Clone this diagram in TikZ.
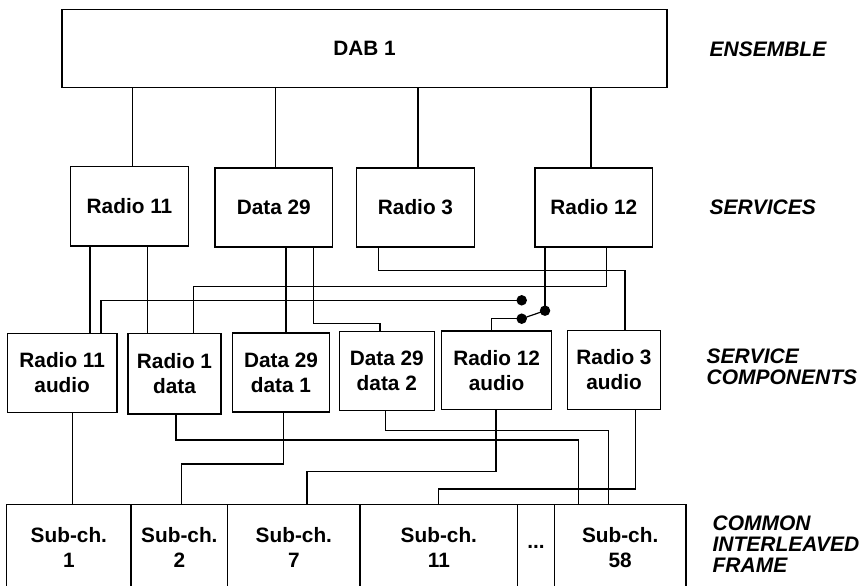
\documentclass[tikz,border=0pt]{standalone}
\usepackage{fontspec}
\setmainfont{Liberation Sans}
\begin{document}
\begin{tikzpicture}[x=1pt,y=-1pt, line width=1.2pt,
  box/.style={draw, rectangle, inner sep=0pt, outer sep=0pt, align=center,
    font=\fontsize{20.8}{25}\selectfont\bfseries},
  lbl/.style={anchor=west, inner sep=0pt, align=left,
    font=\fontsize{21}{21.3}\selectfont\bfseries\itshape},
  dotnode/.style={circle, fill, inner sep=0pt, minimum size=10.5pt}]
\useasboundingbox (0,0) rectangle (865,586);
% ensemble
\node[box, minimum width=605pt, minimum height=78pt] (dab) at (364.5,48.5) {DAB 1};
% services
\node[box, minimum width=117.6pt, minimum height=79.3pt] (s11) at (129.5,206.3) {Radio 11};
\node[box, minimum width=117.7pt, minimum height=79pt] (s29) at (273.8,207.5) {Data 29};
\node[box, minimum width=117.6pt, minimum height=79pt] (s3) at (415.5,207.5) {Radio 3};
\node[box, minimum width=117.7pt, minimum height=79pt] (s12) at (593.8,207.5) {Radio 12};
% service components
\node[box, minimum width=109.7pt, minimum height=79.4pt] (c11a) at (62.2,373) {Radio 11\\audio};
\node[box, minimum width=93pt, minimum height=80.7pt] (c1d) at (174.5,373.7) {Radio 1\\data};
\node[box, minimum width=96.6pt, minimum height=79pt] (c29a) at (281,372.5) {Data 29\\data 1};
\node[box, minimum width=94.9pt, minimum height=79pt] (c29b) at (386.8,371.2) {Data 29\\data 2};
\node[box, minimum width=109.8pt, minimum height=78.3pt] (c12a) at (496.6,370.2) {Radio 12\\audio};
\node[box, minimum width=93.4pt, minimum height=78.6pt] (c3a) at (614,370) {Radio 3\\audio};
% common interleaved frame
\node[box, minimum width=124.3pt, minimum height=86pt] (f1) at (68.85,547.3) {Sub-ch.\\1};
\node[box, minimum width=96.7pt, minimum height=86pt] (f2) at (179.35,547.3) {Sub-ch.\\2};
\node[box, minimum width=132.3pt, minimum height=86pt] (f7) at (293.85,547.3) {Sub-ch.\\7};
\node[box, minimum width=157.7pt, minimum height=86pt] (f11) at (438.85,547.3) {Sub-ch.\\11};
\node[box, minimum width=36.6pt, minimum height=86pt] (fdots) at (536,547.3) {...};
\node[box, minimum width=131.7pt, minimum height=86pt] (f58) at (620.15,547.3) {Sub-ch.\\58};
% labels
\node[lbl] (lens) at (709,49.3) {ENSEMBLE};
\node[lbl] (lsvc) at (709,207) {SERVICES};
\node[lbl] (lsc) at (706,367) {SERVICE\\COMPONENTS};
\node[lbl] (lcif) at (712,544) {COMMON\\INTERLEAVED\\FRAME};
% ensemble to services
\draw (dab.south -| 132.7,0) -- (s11.north -| 132.7,0);
\draw (dab.south -| 275.7,0) -- (s29.north -| 275.7,0);
\draw (dab.south -| 418,0) -- (s3.north -| 418,0);
\draw (dab.south -| 591,0) -- (s12.north -| 591,0);
% services to components
\draw (s11.south -| 90,0) -- (c11a.north -| 90,0);
\draw (s11.south -| 147.7,0) -- (c1d.north -| 147.7,0);
\draw (s29.south -| 286,0) -- (c29a.north -| 286,0);
\draw (s29.south -| 313.3,0) -- (313.3,323.8) -| (c29b.north -| 380,0);
\draw (s3.south -| 378.3,0) -- (378.3,270.7) -| (c3a.north -| 625,0);
\draw (s12.south -| 606.7,0) -- (606.7,286.7) -| (c1d.north -| 193.3,0);
% switch
\node[dotnode] (d1) at (521.7,300.3) {};
\node[dotnode] (d2) at (545,310.7) {};
\node[dotnode] (d3) at (521.7,318.7) {};
\draw (s12.south -| 545,0) -- (d2.center);
\draw (d2.center) -- (d3.center);
\draw (d3.center) -| (c12a.north -| 491.7,0);
\draw (c11a.north -| 101,0) |- (d1.center);
% components to frame
\draw (c11a.south -| 72.7,0) -- (f1.north -| 72.7,0);
\draw (c1d.south -| 176,0) -- (176,440) -| (f58.north -| 578.7,0);
\draw (c29a.south -| 283.3,0) -- (283.3,464) -| (f2.north -| 181.3,0);
\draw (c29b.south -| 385.7,0) -- (385.7,430.7) -| (f58.north -| 608.5,0);
\draw (c12a.south -| 496,0) -- (496,471.7) -| (f7.north -| 307,0);
\draw (c3a.south -| 635.7,0) -- (635.7,489) -| (f11.north -| 438.3,0);
\end{tikzpicture}
\end{document}
